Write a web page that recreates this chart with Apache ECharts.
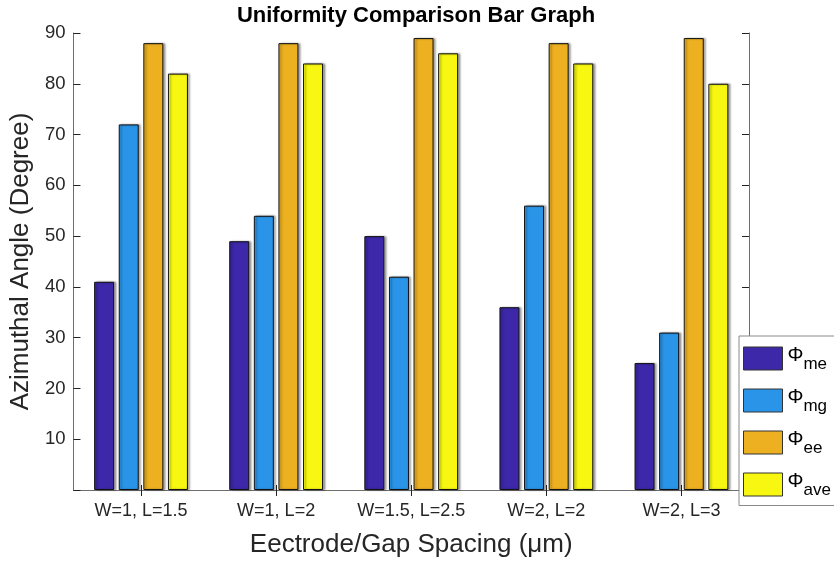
<!DOCTYPE html>
<html>
<head>
<meta charset="utf-8">
<script src="https://cdn.jsdelivr.net/npm/echarts@6/dist/echarts.min.js"></script>
<style>
  html, body { margin: 0; padding: 0; background: #fff; }
  #chart { width: 834px; height: 565px; }
</style>
</head>
<body>
<div id="chart"></div>
<script>
// Electrode/gap configurations
const categories = ['W=1, L=1.5', 'W=1, L=2', 'W=1.5, L=2.5', 'W=2, L=2', 'W=2, L=3'];
// Azimuthal angle per configuration (degrees)
const phiMe  = [41, 49, 50, 36, 25];
const phiMg  = [72, 54, 42, 56, 31];
const phiEe  = [88, 88, 89, 88, 89];
const phiAve = [82, 84, 86, 84, 80];
const seriesNames = ['me', 'mg', 'ee', 'ave'];
const seriesColors = ['#3c28a8', '#2a95e8', '#ecb021', '#f7f711'];
const yTicks = [0, 10, 20, 30, 40, 50, 60, 70, 80, 90];

const font = 'Arial, "Liberation Sans", sans-serif';
const axisColor = '#6e6e6e';
const textColor = '#262626';

const values = [phiMe, phiMg, phiEe, phiAve];

const chart = echarts.init(document.getElementById('chart'));

const barSeries = seriesNames.map((n, i) => ({
  name: n,
  type: 'bar',
  data: values[i],
  barWidth: 20,
  barGap: '23%',
  itemStyle: {
    color: seriesColors[i],
    borderColor: '#111',
    borderWidth: 1,
    shadowColor: 'rgba(0,0,0,0.35)',
    shadowBlur: 2,
    shadowOffsetX: 2,
    shadowOffsetY: 0
  }
}));

chart.setOption({
  animation: false,
  backgroundColor: '#fff',
  title: {
    text: 'Uniformity Comparison Bar Graph',
    left: 411,
    textAlign: 'center',
    top: 0,
    textStyle: {
      fontFamily: font,
      fontWeight: 'bold',
      fontSize: 22,
      color: '#000'
    }
  },
  grid: { left: 73, right: 85, top: 33, bottom: 75, show: false },
  legend: {
    orient: 'vertical',
    left: 739,
    top: 336,
    width: 120,
    padding: [9, 20, 7, 4],
    itemWidth: 39,
    itemHeight: 23,
    itemGap: 14.5,
    icon: 'rect',
    backgroundColor: '#fff',
    borderColor: '#8a8a8a',
    borderWidth: 1,
    data: seriesNames,
    itemStyle: { borderColor: '#333', borderWidth: 1 },
    formatter: n => '{phi|Φ}{sub|' + n + '}',
    textStyle: {
      rich: {
        phi: { fontFamily: font, fontSize: 20, color: '#000', padding: [0, 0, 7, 0] },
        sub: { fontFamily: font, fontSize: 17, color: '#000', padding: [11, 0, 0, 0] }
      }
    }
  },
  xAxis: [
    {
      type: 'category',
      data: categories,
      position: 'bottom',
      name: 'Eectrode/Gap Spacing (μm)',
      nameLocation: 'middle',
      nameGap: 42,
      nameTextStyle: { fontFamily: font, fontSize: 26, color: textColor },
      axisLine: { lineStyle: { color: axisColor, width: 1 } },
      axisTick: { show: true, inside: true, alignWithLabel: true, interval: 0, length: 5, lineStyle: { color: '#222' } },
      axisLabel: { fontFamily: font, fontSize: 18, color: textColor, margin: 12, interval: 0, hideOverlap: false }
    },
    {
      type: 'category',
      data: categories,
      position: 'top',
      axisLine: { show: true, lineStyle: { color: axisColor, width: 1 } },
      axisTick: { show: true, inside: true, alignWithLabel: true, interval: 0, length: 6, lineStyle: { color: '#222' } },
      axisLabel: { show: false }
    }
  ],
  yAxis: [
    {
      type: 'value',
      min: yTicks[0],
      max: yTicks[yTicks.length - 1],
      interval: 10,
      position: 'left',
      name: 'Azimuthal Angle (Degree)',
      nameLocation: 'middle',
      nameGap: 36,
      nameTextStyle: { fontFamily: font, fontSize: 26, color: textColor },
      axisLine: { show: true, lineStyle: { color: axisColor, width: 1 } },
      axisTick: { show: true, inside: true, length: 7, lineStyle: { color: '#222' } },
      axisLabel: {
        fontFamily: font, fontSize: 18.5, color: textColor, margin: 8,
        formatter: v => (v === 0 ? '' : String(v))
      },
      splitLine: { show: false }
    },
    {
      type: 'value',
      min: yTicks[0],
      max: yTicks[yTicks.length - 1],
      interval: 10,
      position: 'right',
      axisLine: { show: true, lineStyle: { color: axisColor, width: 1 } },
      axisTick: { show: true, inside: true, length: 7, lineStyle: { color: '#222' } },
      axisLabel: { show: false },
      splitLine: { show: false }
    }
  ],
  series: barSeries
});
</script>
</body>
</html>
